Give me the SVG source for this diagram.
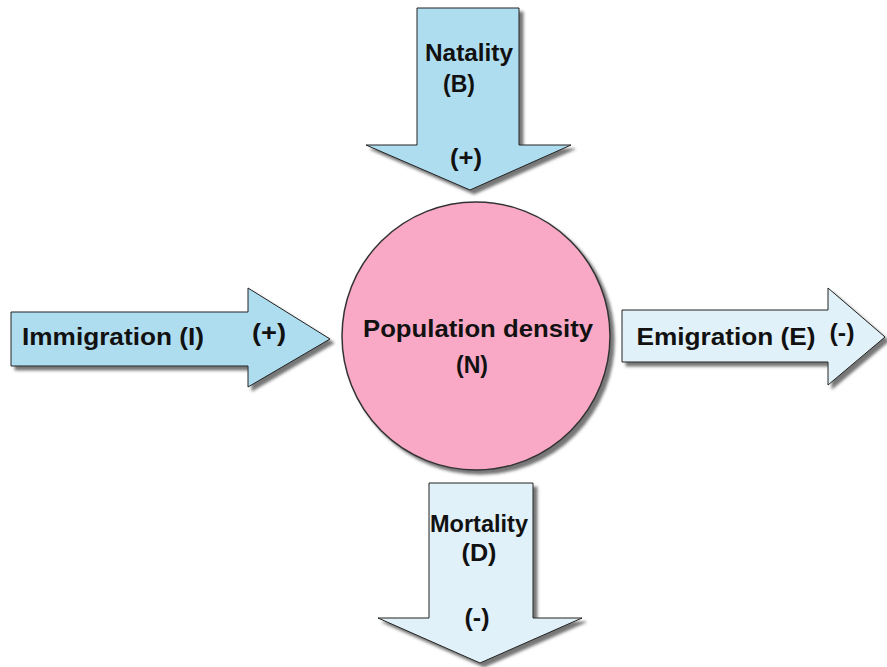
<svg xmlns="http://www.w3.org/2000/svg" width="887" height="667" viewBox="0 0 887 667">
<defs>
<filter id="sh" x="-10%" y="-10%" width="130%" height="130%">
<feDropShadow dx="4" dy="4" stdDeviation="1.5" flood-color="#555" flood-opacity="0.8"/>
</filter>
</defs>
<style>
.blue{fill:#AFDDF0;stroke:#222;stroke-width:1;filter:url(#sh)}
.pale{fill:#E1F1F9;stroke:#222;stroke-width:1;filter:url(#sh)}
.circ{fill:#F9A9C5;stroke:#333;stroke-width:1.5;filter:url(#sh)}
text{font-family:"Liberation Sans",Arial,sans-serif;font-weight:bold;font-size:24px;fill:#111;text-anchor:middle}
</style>
<rect width="887" height="667" fill="#fff"/>
<g id="connectors">
<g id="natality">
<polygon class="blue" points="417,8 519,8 519,145 571,145 470,190 366,145 417,145"/>
<text x="469" y="61" textLength="88" lengthAdjust="spacingAndGlyphs">Natality</text>
<text x="459" y="92" textLength="32" lengthAdjust="spacingAndGlyphs">(B)</text>
<text x="466" y="166" textLength="32" lengthAdjust="spacingAndGlyphs">(+)</text>
</g>
<g id="immigration">
<polygon class="blue" points="11,312 248,312 248,288 330,339 248,387 248,366 11,366"/>
<text x="113" y="345" textLength="182" lengthAdjust="spacingAndGlyphs">Immigration (I)</text>
<text x="269" y="341" textLength="34" lengthAdjust="spacingAndGlyphs">(+)</text>
</g>
<g id="emigration">
<polygon class="pale" points="622,310 828,310 828,288 885,337 828,385 828,362 622,362"/>
<text x="726" y="345" textLength="179" lengthAdjust="spacingAndGlyphs">Emigration (E)</text>
<text x="842" y="341" textLength="25" lengthAdjust="spacingAndGlyphs">(-)</text>
</g>
<g id="mortality">
<polygon class="pale" points="429,483 533,483 533,618 582,618 480,663 378,618 429,618"/>
<text x="479" y="532" textLength="98" lengthAdjust="spacingAndGlyphs">Mortality</text>
<text x="479" y="561" textLength="35" lengthAdjust="spacingAndGlyphs">(D)</text>
<text x="477" y="626" textLength="25" lengthAdjust="spacingAndGlyphs">(-)</text>
</g>
</g>
<g id="population">
<circle class="circ" cx="476" cy="336" r="134"/>
<text x="478" y="337" textLength="230" lengthAdjust="spacingAndGlyphs">Population density</text>
<text x="472" y="373" textLength="32" lengthAdjust="spacingAndGlyphs">(N)</text>
</g>
</svg>
